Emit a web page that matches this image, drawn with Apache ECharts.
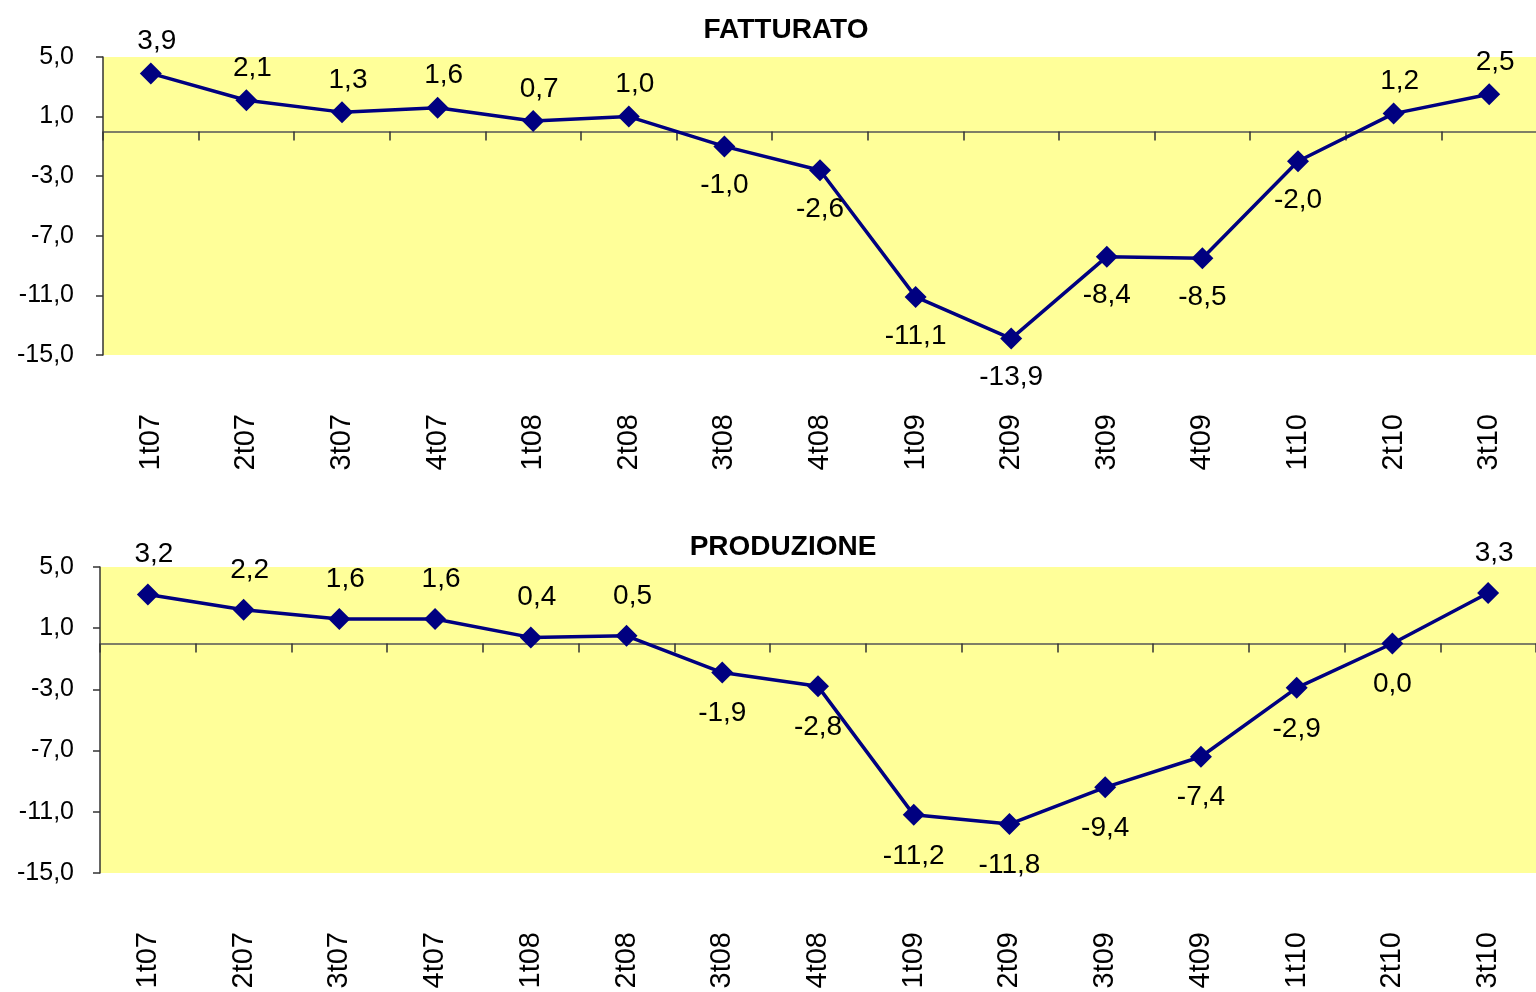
<!DOCTYPE html>
<html>
<head>
<meta charset="utf-8">
<script src="https://cdn.jsdelivr.net/npm/echarts@6/dist/echarts.min.js"></script>
<style>
html,body{margin:0;padding:0;background:#fff;}
#chart{width:1536px;height:992px;}
</style>
</head>
<body>
<div id="chart"></div>
<script>
const categories = ['1t07','2t07','3t07','4t07','1t08','2t08','3t08','4t08','1t09','2t09','3t09','4t09','1t10','2t10','3t10'];
const fatturato = [3.9, 2.1, 1.3, 1.6, 0.7, 1.0, -1.0, -2.6, -11.1, -13.9, -8.4, -8.5, -2.0, 1.2, 2.5];
const produzione = [3.2, 2.2, 1.6, 1.6, 0.4, 0.5, -1.9, -2.8, -11.2, -11.8, -9.4, -7.4, -2.9, 0.0, 3.3];
const titles = ['FATTURATO', 'PRODUZIONE'];
const yMin = -15, yMax = 5, yStep = 4;

const FONT = "'Liberation Sans', Arial, sans-serif";
const fmt = v => v.toFixed(1).replace('.', ',');

function items(values, upDy, downDy) {
  return values.map(v => ({
    value: v,
    label: { offset: v > 0 ? [6, upDy] : [0, downDy] }
  }));
}

const grids = [
  { left: 103, top: 57, width: 1434, height: 298 },
  { left: 100, top: 567, width: 1436, height: 306 }
];

const option = {
  animation: false,
  backgroundColor: '#ffffff',
  title: [
    { text: titles[0], left: 781, top: 11, textAlign: 'center',
      textStyle: { fontFamily: FONT, fontWeight: 'bold', fontSize: 28, color: '#000' } },
    { text: titles[1], left: 778, top: 528, textAlign: 'center',
      textStyle: { fontFamily: FONT, fontWeight: 'bold', fontSize: 28, color: '#000' } }
  ],
  grid: grids.map(g => Object.assign({
    show: true, backgroundColor: '#FFFF99', borderWidth: 0,
    containLabel: false, outerBoundsMode: 'none'
  }, g)),
  xAxis: [0, 0, 1, 1].map((gi, k) => {
    const labelAxis = k % 2 === 1;
    return {
      type: 'category',
      gridIndex: gi,
      position: 'bottom',
      data: categories,
      boundaryGap: true,
      axisLine: labelAxis ? { show: false, onZero: false } :
        { show: true, onZero: true, lineStyle: { color: '#555', width: 1.5 } },
      axisTick: labelAxis ? { show: false } :
        { show: true, interval: 0, inside: false, length: 9, lineStyle: { color: '#333', width: 1.5 } },
      axisLabel: labelAxis ? {
        show: true, interval: 0, rotate: 90, margin: 59,
        fontFamily: FONT, fontSize: 29, color: '#000'
      } : { show: false },
      splitLine: { show: false }
    };
  }),
  yAxis: [0, 1].map(gi => ({
    type: 'value',
    gridIndex: gi,
    min: yMin, max: yMax, interval: yStep,
    axisLine: { show: true, lineStyle: { color: '#333', width: 1.5 } },
    axisTick: { show: true, inside: false, length: 7, lineStyle: { color: '#333', width: 1.5 } },
    axisLabel: { margin: gi === 0 ? 29 : 26, fontFamily: FONT, fontSize: 25, color: '#000', formatter: fmt },
    splitLine: { show: false }
  })),
  series: [
    { name: titles[0], data: items(fatturato, -32, 39), xAxisIndex: 0, yAxisIndex: 0 },
    { name: titles[1], data: items(produzione, -40, 41), xAxisIndex: 2, yAxisIndex: 1 }
  ].map(s => Object.assign({
    type: 'line',
    symbol: 'diamond',
    symbolSize: 22,
    lineStyle: { color: '#000080', width: 3.5 },
    itemStyle: { color: '#000080' },
    label: {
      show: true, position: 'inside',
      fontFamily: FONT, fontSize: 28, color: '#000',
      formatter: p => fmt(p.value)
    },
    z: 5
  }, s))
};

const chart = echarts.init(document.getElementById('chart'), null, { renderer: 'canvas' });
chart.setOption(option);
</script>
</body>
</html>
